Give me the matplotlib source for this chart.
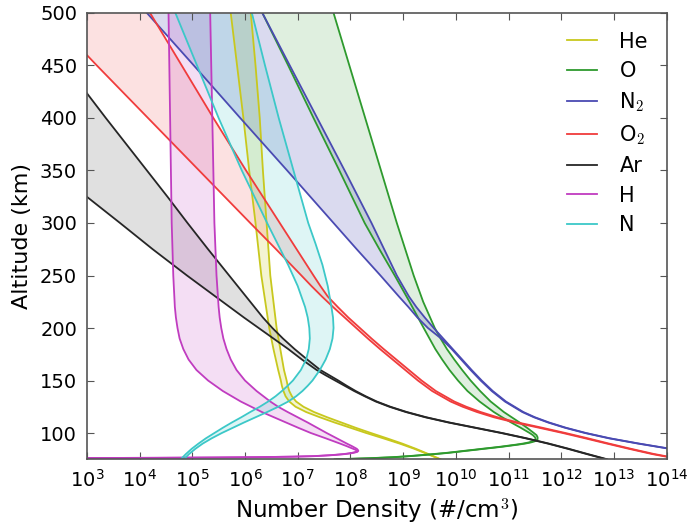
import numpy as np
import matplotlib
matplotlib.use("Agg")
import matplotlib.pyplot as plt
from matplotlib.ticker import NullLocator, FixedLocator

plt.rcParams['font.family'] = ['DejaVu Sans']
plt.rcParams['mathtext.fontset'] = 'cm'

# ---------------- data (log10 of number density, #/cm^3) ----------------
he_alt = [75, 80, 85, 90, 95, 100, 105, 110, 115, 120, 125, 130, 135, 140, 145, 150, 160, 180, 200, 250, 300, 350, 400, 450, 500]
he_lo = [9.7, 9.46, 9.21, 8.93, 8.62, 8.3, 8.0, 7.7, 7.42, 7.16, 6.96, 6.84, 6.77, 6.73, 6.7, 6.68, 6.63, 6.54, 6.46, 6.31, 6.2, 6.08, 5.97, 5.85, 5.73]
he_hi = [9.71, 9.48, 9.24, 8.98, 8.69, 8.39, 8.1, 7.83, 7.56, 7.31, 7.11, 6.97, 6.89, 6.84, 6.81, 6.79, 6.74, 6.67, 6.6, 6.48, 6.41, 6.34, 6.28, 6.2, 6.11]

o_alt = [75, 76, 77, 78, 79, 80, 81, 82, 83, 84, 85, 86, 87, 88, 89, 90, 91, 92, 93, 94, 95, 96, 98, 100, 105, 110, 115, 120, 130, 140, 150, 160, 170, 180, 190, 200, 225, 250, 275, 300, 350, 400, 450, 500]
o_lo = [7.7, 8.35, 8.8, 9.1, 9.35, 9.58, 9.8, 9.98, 10.15, 10.33, 10.5, 10.68, 10.85, 11.0, 11.15, 11.28, 11.38, 11.45, 11.49, 11.51, 11.51, 11.5, 11.46, 11.4, 11.23, 11.05, 10.88, 10.72, 10.45, 10.22, 10.04, 9.88, 9.74, 9.61, 9.5, 9.39, 9.12, 8.84, 8.55, 8.27, 7.79, 7.3, 6.82, 6.33]
o_hi = [7.74, 8.39, 8.84, 9.14, 9.39, 9.62, 9.84, 10.02, 10.19, 10.37, 10.54, 10.72, 10.89, 11.04, 11.19, 11.32, 11.42, 11.49, 11.53, 11.55, 11.55, 11.55, 11.53, 11.48, 11.35, 11.21, 11.06, 10.91, 10.66, 10.46, 10.28, 10.12, 9.97, 9.83, 9.71, 9.6, 9.38, 9.2, 9.04, 8.88, 8.58, 8.28, 7.98, 7.68]

n2_alt = [80, 85, 90, 95, 100, 105, 110, 115, 120, 130, 140, 150, 160, 170, 180, 190, 200, 210, 220, 230, 250, 275, 300, 350, 400, 450, 500]
n2_lo = [14.65, 14.05, 13.45, 12.9, 12.45, 12.07, 11.75, 11.48, 11.26, 10.93, 10.68, 10.47, 10.28, 10.1, 9.92, 9.72, 9.47, 9.27, 9.1, 8.92, 8.57, 8.12, 7.68, 6.8, 5.91, 5.03, 4.14]
n2_hi = [14.67, 14.07, 13.47, 12.92, 12.47, 12.09, 11.77, 11.5, 11.28, 10.95, 10.7, 10.49, 10.3, 10.12, 9.94, 9.76, 9.58, 9.41, 9.25, 9.11, 8.88, 8.64, 8.4, 7.89, 7.37, 6.85, 6.33]

o2_alt = [75, 77.4, 80, 85, 90, 95, 100, 105, 110, 115, 120, 125, 130, 140, 150, 160, 170, 180, 190, 200, 210, 220, 230, 240, 250, 275, 300, 350, 400, 450, 460, 500]
o2_lo = [14.28, 14.0, 13.72, 13.28, 12.86, 12.45, 12.03, 11.58, 11.12, 10.72, 10.4, 10.13, 9.9, 9.55, 9.28, 9.04, 8.8, 8.56, 8.33, 8.11, 7.89, 7.67, 7.46, 7.26, 7.07, 6.59, 6.1, 5.13, 4.16, 3.19, 3.0, 2.22]
o2_hi = [14.32, 14.04, 13.76, 13.32, 12.9, 12.5, 12.08, 11.64, 11.18, 10.79, 10.47, 10.2, 9.97, 9.62, 9.35, 9.11, 8.87, 8.63, 8.4, 8.18, 7.96, 7.76, 7.57, 7.43, 7.3, 6.98, 6.66, 6.02, 5.4, 4.8, 4.68, 4.2]

ar_alt = [75, 80, 85, 90, 95, 100, 105, 110, 115, 120, 125, 130, 135, 140, 145, 150, 155, 160, 170, 180, 190, 200, 210, 220, 230, 240, 250, 275, 300, 325, 350, 400, 425, 450, 500]
ar_lo = [12.85, 12.48, 12.12, 11.74, 11.32, 10.86, 10.36, 9.86, 9.42, 9.05, 8.74, 8.48, 8.27, 8.07, 7.89, 7.71, 7.53, 7.36, 7.08, 6.82, 6.54, 6.26, 5.98, 5.71, 5.44, 5.17, 4.9, 4.25, 3.63, 3.0, 2.38, 1.1, 0.5, -0.1, -1.3]
ar_hi = [12.87, 12.5, 12.14, 11.76, 11.34, 10.88, 10.38, 9.88, 9.44, 9.07, 8.76, 8.5, 8.29, 8.1, 7.93, 7.77, 7.6, 7.43, 7.18, 6.94, 6.72, 6.52, 6.34, 6.18, 6.02, 5.86, 5.7, 5.3, 4.91, 4.53, 4.14, 3.36, 2.98, 2.59, 1.81]

h_alt = [76.2, 76.4, 76.7, 77, 77.5, 78, 79, 80, 81, 82, 83, 84, 85, 87.5, 90, 95, 100, 105, 110, 115, 120, 125, 130, 140, 150, 160, 170, 180, 190, 200, 210, 220, 250, 300, 400, 500]
h_lo = [3.0, 4.3, 5.4, 6.2, 6.9, 7.3, 7.65, 7.88, 8.02, 8.1, 8.12, 8.1, 8.05, 7.93, 7.8, 7.53, 7.25, 7.01, 6.78, 6.55, 6.32, 6.12, 5.92, 5.58, 5.3, 5.08, 4.93, 4.83, 4.76, 4.72, 4.69, 4.67, 4.64, 4.61, 4.58, 4.55]
h_hi = [3.0, 4.33, 5.43, 6.23, 6.93, 7.33, 7.68, 7.91, 8.05, 8.13, 8.15, 8.14, 8.12, 8.03, 7.93, 7.74, 7.55, 7.37, 7.19, 7.0, 6.81, 6.63, 6.48, 6.22, 6.0, 5.84, 5.73, 5.65, 5.59, 5.55, 5.52, 5.5, 5.46, 5.42, 5.38, 5.34]

n_alt = [75, 80, 85, 90, 95, 100, 105, 110, 115, 120, 125, 130, 135, 140, 145, 150, 160, 170, 180, 190, 200, 210, 220, 240, 260, 280, 300, 350, 400, 450, 500]
n_lo = [4.78, 4.88, 4.99, 5.12, 5.26, 5.42, 5.58, 5.75, 5.93, 6.1, 6.28, 6.44, 6.58, 6.7, 6.81, 6.91, 7.06, 7.16, 7.21, 7.23, 7.22, 7.19, 7.14, 7.0, 6.82, 6.62, 6.42, 5.94, 5.5, 5.09, 4.68]
n_hi = [4.84, 4.94, 5.06, 5.2, 5.37, 5.56, 5.77, 5.98, 6.2, 6.42, 6.63, 6.82, 6.97, 7.09, 7.19, 7.28, 7.42, 7.53, 7.61, 7.66, 7.68, 7.67, 7.64, 7.57, 7.47, 7.34, 7.2, 6.92, 6.64, 6.38, 6.13]

species = ['He', 'O', 'N$_2$', 'O$_2$', 'Ar', 'H', 'N']
colors = ['#c8c81e', '#2e9a2e', '#4a4ab2', '#f03c3c', '#262626', '#c03cc0', '#3cc8c8']
fill_alpha = [0.2, 0.15, 0.2, 0.15, 0.14, 0.17, 0.17]
alts = [he_alt, o_alt, n2_alt, o2_alt, ar_alt, h_alt, n_alt]
los = [he_lo, o_lo, n2_lo, o2_lo, ar_lo, h_lo, n_lo]
his = [he_hi, o_hi, n2_hi, o2_hi, ar_hi, h_hi, n_hi]

xticks = [10.0 ** k for k in range(3, 15)]
yticks = [100, 150, 200, 250, 300, 350, 400, 450, 500]

# ---------------- figure ----------------
fig = plt.figure(figsize=(6.89, 5.29), dpi=100)
ax = fig.add_axes([0.126, 0.1318, 0.8417, 0.8437])

for a, lo, hi, c, fa in zip(alts, los, his, colors, fill_alpha):
    y = np.array(a, dtype=float)
    ax.fill_betweenx(y, 10.0 ** np.array(lo), 10.0 ** np.array(hi),
                     color=c, alpha=fa, linewidth=0, zorder=1)

handles = []
for a, lo, hi, c, name in zip(alts, los, his, colors, species):
    y = np.array(a, dtype=float)
    l1, = ax.plot(10.0 ** np.array(lo), y, color=c, lw=1.3, zorder=2, label=name)
    ax.plot(10.0 ** np.array(hi), y, color=c, lw=1.3, zorder=2)
    handles.append(l1)

ax.set_xscale('log')
ax.set_xlim(1e3, 1e14)
ax.set_ylim(75, 500)
ax.xaxis.set_major_locator(FixedLocator(xticks))
ax.xaxis.set_minor_locator(NullLocator())
ax.yaxis.set_major_locator(FixedLocator(yticks))
ax.tick_params(axis='both', which='major', direction='in', top=True, right=True,
               length=5, width=0.8, color='#555555', labelsize=14, pad=7)
for s in ax.spines.values():
    s.set_color('#555555')
    s.set_linewidth(1.2)

ax.set_xlabel('Number Density (#/cm$^3$)', fontsize=16.5, labelpad=4)
ax.set_ylabel('Altitude (km)', fontsize=16, labelpad=6)

leg = ax.legend(handles=handles, loc='upper right', frameon=False, fontsize=15,
                handlelength=1.4, handletextpad=1.1, labelspacing=0.45,
                bbox_to_anchor=(1.0, 1.0))

fig.savefig('out.png', dpi=100)
